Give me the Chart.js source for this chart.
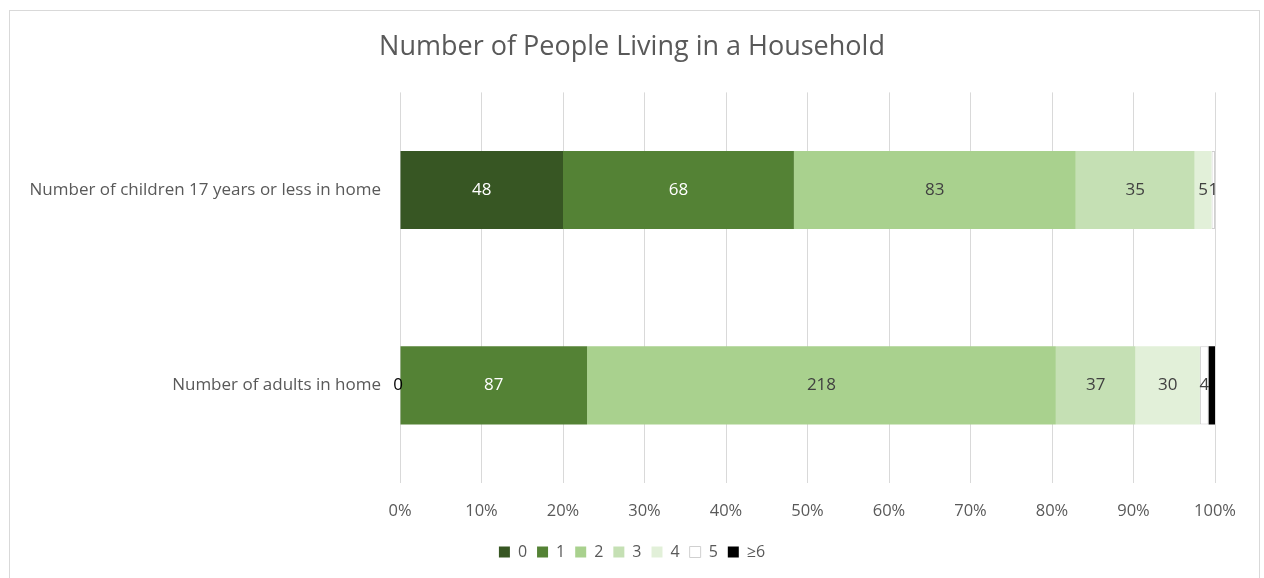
<!DOCTYPE html>
<html>
<head>
<meta charset="utf-8">
<title>Number of People Living in a Household</title>
<script src="https://cdn.jsdelivr.net/npm/chart.js@4"></script>
<style>
  html, body { margin: 0; padding: 0; background: #fff; overflow: hidden; }
  #frame {
    position: absolute; left: 9px; top: 10px; width: 1249px; height: 600px;
    border: 1px solid #d9d9d9;
  }
  #wrap { position: absolute; left: 0; top: 0; width: 1264px; height: 578px; }
</style>
</head>
<body>
<div id="frame"></div>
<div id="wrap"><canvas id="householdChart"></canvas></div>
<script>
// Survey counts per household-size bucket
var categories = ['Number of children 17 years or less in home', 'Number of adults in home'];
var sizeLabels = ['0', '1', '2', '3', '4', '5', '\u22656'];
var countsZero = [48, 0];
var countsOne = [68, 87];
var countsTwo = [83, 218];
var countsThree = [35, 37];
var countsFour = [5, 30];
var countsFive = [1, 4];
var countsSixPlus = [0, 3];
var xTicks = [0, 10, 20, 30, 40, 50, 60, 70, 80, 90, 100];

var allCounts = [countsZero, countsOne, countsTwo, countsThree, countsFour, countsFive, countsSixPlus];
var fills = ['#375623', '#548235', '#a9d18e', '#c5e0b4', '#e2f0d9', '#ffffff', '#000000'];
var edges = ['#375623', '#548235', '#a9d18e', '#c5e0b4', '#e2f0d9', '#d0d0d0', '#000000'];
var textColors = ['#ffffff', '#ffffff', '#404040', '#404040', '#404040', '#404040', null];
var FONT = '"Open Sans", sans-serif';

var totals = categories.map(function(c, i) {
    return allCounts.reduce(function(s, arr) { return s + arr[i]; }, 0);
});

var datasets = allCounts.map(function(arr, k) {
    return {
        label: sizeLabels[k],
        counts: arr,
        data: arr.map(function(v, i) { return v / totals[i] * 100; }),
        backgroundColor: fills[k],
        borderColor: edges[k],
        borderWidth: k === 5 ? 1 : 0,
        borderSkipped: false,
        barPercentage: 0.8,
        categoryPercentage: 0.5
    };
});

// Writes the raw count in the middle of each segment
var countLabels = {
    id: 'countLabels',
    afterDatasetsDraw: function(chart) {
        var ctx = chart.ctx;
        ctx.save();
        ctx.font = '17px ' + FONT;
        ctx.textAlign = 'center';
        ctx.textBaseline = 'middle';
        chart.data.datasets.forEach(function(ds, k) {
            if (!textColors[k]) return;
            chart.getDatasetMeta(k).data.forEach(function(bar, i) {
                var v = ds.counts[i];
                var x = (bar.x + bar.base) / 2;
                if (v === 0) {
                    ctx.fillStyle = '#000000';
                    x -= 2;
                } else {
                    ctx.fillStyle = textColors[k];
                }
                ctx.fillText(String(v), x, bar.y);
            });
        });
        ctx.restore();
    }
};

var ctx = document.getElementById('householdChart').getContext('2d');
var chart = new Chart(ctx, {
    type: 'bar',
    data: { labels: categories, datasets: datasets },
    plugins: [countLabels],
    options: {
        indexAxis: 'y',
        responsive: true,
        maintainAspectRatio: false,
        animation: false,
        layout: { padding: { top: 0, right: 0, bottom: 8, left: 0 } },
        plugins: {
            title: {
                display: true,
                text: 'Number of People Living in a Household',
                color: '#595959',
                font: { family: FONT, size: 27, weight: 'normal' },
                padding: { top: 31, bottom: 29 }
            },
            legend: {
                position: 'bottom',
                labels: {
                    color: '#595959',
                    font: { family: FONT, size: 16 },
                    boxWidth: 11,
                    boxHeight: 11,
                    padding: 10
                }
            },
            tooltip: { enabled: false }
        },
        scales: {
            x: {
                stacked: true,
                min: 0,
                max: 100,
                afterBuildTicks: function(scale) {
                    scale.ticks = xTicks.map(function(v) { return { value: v }; });
                },
                afterFit: function(scale) { scale.height = 51; },
                ticks: {
                    color: '#595959',
                    font: { family: FONT, size: 16.5 },
                    padding: 18,
                    callback: function(v) { return v + '%'; }
                },
                grid: { color: '#d9d9d9', lineWidth: 1, drawTicks: false },
                border: { display: false }
            },
            y: {
                stacked: true,
                afterFit: function(scale) { scale.width = 400; },
                ticks: {
                    color: '#595959',
                    font: { family: FONT, size: 17 },
                    padding: 19
                },
                grid: { display: false, drawTicks: false },
                border: { display: false }
            },
            // empty right-hand gutter so the plot ends short of the frame
            gutter: {
                type: 'category',
                position: 'right',
                labels: categories,
                afterFit: function(scale) { scale.width = 49; },
                ticks: { display: false },
                grid: { display: false },
                border: { display: false }
            }
        }
    }
});
</script>
</body>
</html>
